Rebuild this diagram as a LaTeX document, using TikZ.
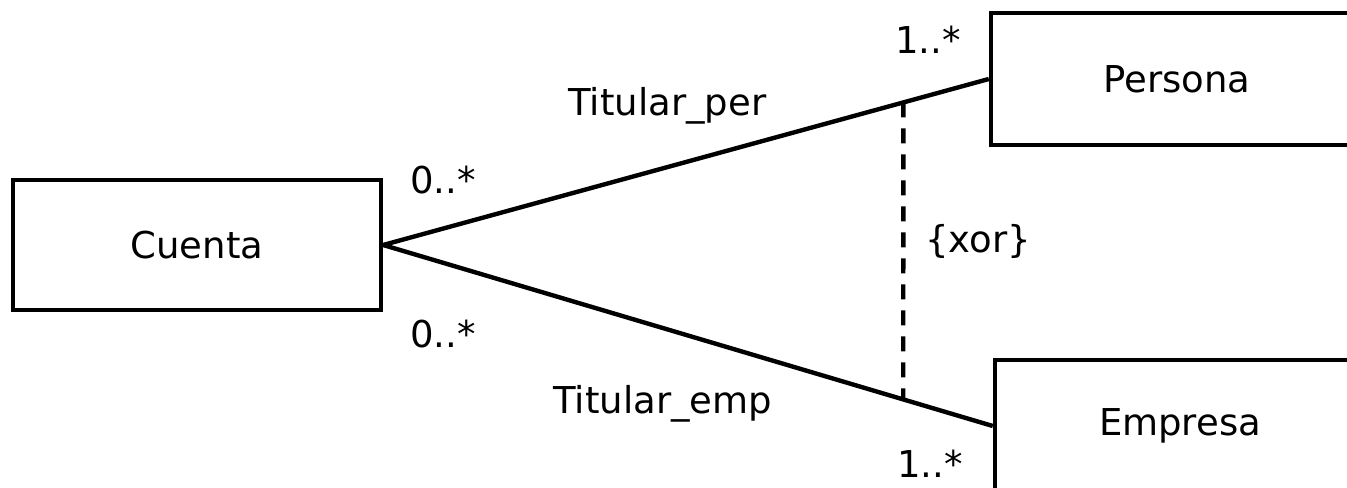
\documentclass[tikz,border=0pt]{standalone}
\usepackage{fontspec}
\setmainfont{DejaVu Sans}
\usetikzlibrary{calc}

\begin{document}
\begin{tikzpicture}[x = 0.5pt, y = -0.5pt,
		clase/.style = {draw, line width = 2.2pt, inner sep = 0pt, minimum height = 66pt, font = \fontsize{18.5}{22}\selectfont},
		etiqueta/.style = {anchor = base west, inner sep = 0pt, font = \fontsize{18.5}{22}\selectfont},
		asoc/.style = {line width = 2.2pt},
		restr/.style = {line width = 2.2pt, dash pattern = on 7.5pt off 5.5pt}]
			\useasboundingbox (0,0) rectangle (1347,487);

			\node [clase, minimum width = 184pt, minimum height = 65pt] (cuenta) at (197,245) {Cuenta};
			\node [clase, minimum width = 186pt] (persona) at (1177,79) {Persona};
			\node [clase, minimum width = 185pt] (empresa) at (1180,426) {Empresa};

			\draw [asoc] (cuenta.east) -- (persona.west);
			\draw [asoc] (cuenta.east) -- (empresa.west);

			% restriccion xor entre las dos asociaciones
			\coordinate (xorArriba) at ($(cuenta.east)!0.859!(persona.west)$);
			\coordinate (xorAbajo) at ($(cuenta.east)!0.853!(empresa.west)$);
			\draw [restr] (xorArriba) -- (xorAbajo);
			\node [etiqueta, anchor = west] (xor) at (925,241) {\{xor\}};

			\node [etiqueta] (rolPer) at (568,115) {Titular\_per};
			\node [etiqueta] (rolEmp) at (553,413) {Titular\_emp};

			\node [etiqueta] (mulCtaPer) at (410,193) {0..*};
			\node [etiqueta] (mulCtaEmp) at (410,347) {0..*};
			\node [etiqueta] (mulPer) at (895,53) {1..*};
			\node [etiqueta] (mulEmp) at (897,477) {1..*};
		\end{tikzpicture}
\end{document}
